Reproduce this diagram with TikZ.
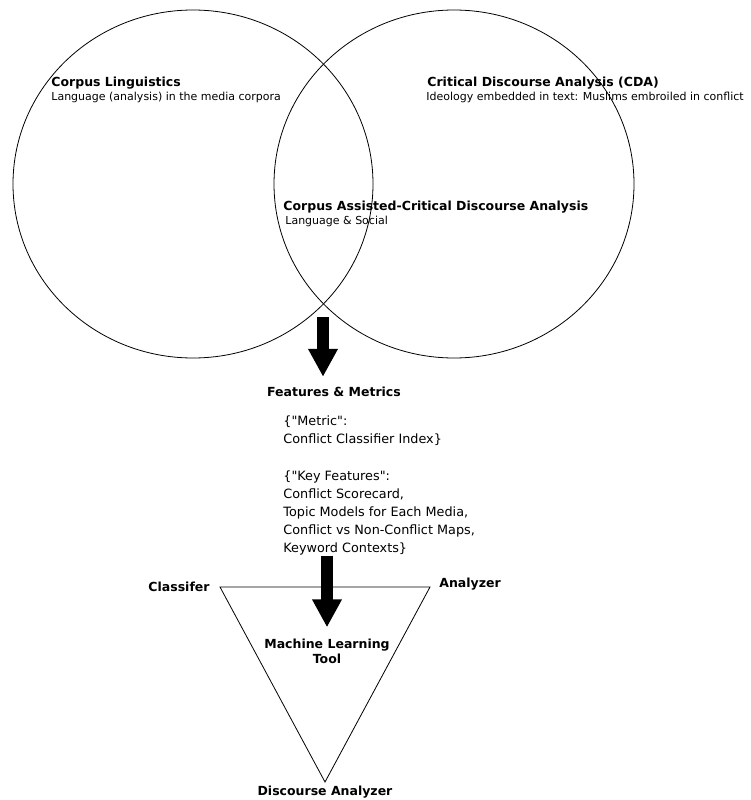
\documentclass[tikz,border=0pt]{standalone}
\usepackage{fontspec}
\setmainfont{DejaVu Sans}
\usetikzlibrary{arrows.meta,positioning}

\begin{document}
\begin{tikzpicture}[x=1pt,y=-1pt,line width=0.8pt,
	head/.style={font=\fontsize{12.5}{15}\selectfont\bfseries, inner sep=0pt},
	note/.style={font=\fontsize{11}{13}\selectfont, inner sep=0pt, anchor=west},
	body/.style={font=\fontsize{12.8}{18}\selectfont, inner sep=0pt, align=left, anchor=west},
	fat arrow/.style={line width=12pt, -{Triangle[width=28pt,length=28pt]}}]
\useasboundingbox (0,0) rectangle (751,800);
% venn part
\draw (193,184) ellipse [x radius=180pt, y radius=174pt];
\draw (454,184) ellipse [x radius=180pt, y radius=174pt];
\node [head, anchor=west] (cl) at (51,83) {Corpus Linguistics};
\node [note] (cl note) at (51,97) {Language (analysis) in the media corpora};
\node [head, anchor=west] (cda) at (427,83) {Critical Discourse Analysis (CDA)};
\node [note] (cda note) at (426,97) {Ideology embedded in text: Muslims embroiled in conflict};
\node [head, anchor=west] (cacda) at (283,207) {Corpus Assisted-Critical Discourse Analysis};
\node [note] (cacda note) at (285,221) {Language \& Social};
% features
\coordinate (venn foot) at (323,317);
\node [head] (feat) at (334,392) {Features \& Metrics};
\node [body] (metric) at (283,431) {\{\textquotedbl Metric\textquotedbl:\\Conflict Classifier Index\}};
\node [body] (keys) at (283,513) {\{\textquotedbl Key Features\textquotedbl:\\Conflict Scorecard,\\Topic Models for Each Media,\\Conflict vs Non-Conflict Maps,\\Keyword Contexts\}};
% tool
\coordinate (tl) at (220,587);
\coordinate (tr) at (430,587);
\coordinate (bt) at (325,782);
\draw (tl) -- (tr) -- (bt) -- cycle;
\node [head, left=10pt of tl] (cls) {Classifer};
\node [head, right=9pt of tr, yshift=3pt] (ana) {Analyzer};
\node [head, below=4pt of bt] (disc) {Discourse Analyzer};
\node [head, align=center] (ml) at (327,651) {Machine Learning\\Tool};
\draw [fat arrow, shorten >=10pt] (venn foot) -- (feat.north -| venn foot);
\draw [fat arrow, shorten >=11pt] (keys.south -| ml) -- (ml.north);
\end{tikzpicture}
\end{document}
